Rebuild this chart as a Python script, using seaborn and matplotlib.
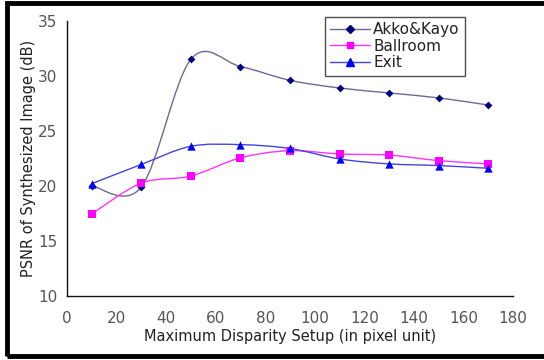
import numpy as np
import matplotlib
matplotlib.use("Agg")
import matplotlib.pyplot as plt
import seaborn as sns
from matplotlib.path import Path
from matplotlib.patches import PathPatch, Rectangle
from matplotlib.lines import Line2D

# data
disparity = [10, 30, 50, 70, 90, 110, 130, 150, 170]
akko_kayo = [20.0, 19.9, 31.5, 30.85, 29.6, 28.9, 28.45, 28.0, 27.35]
ballroom = [17.45, 20.25, 20.9, 22.55, 23.2, 22.9, 22.8, 22.3, 22.0]
exit_seq = [20.2, 21.95, 23.6, 23.75, 23.4, 22.45, 22.0, 21.85, 21.6]

series = [
    ("Akko&Kayo", akko_kayo, "#000080", "#6a6a9a", "D", 4),
    ("Ballroom", ballroom, "#ff00ff", "#ff33ff", "s", 5.5),
    ("Exit", exit_seq, "#0000ff", "#4444dd", "^", 6),
]

sns.set_style("white")
plt.rcParams["font.family"] = ["DejaVu Sans"]


def smooth_path(xs, ys):
    # excel-like smoothed line: catmull-rom segments as cubic beziers
    pts = np.column_stack([xs, ys]).astype(float)
    verts = [pts[0]]
    codes = [Path.MOVETO]
    n = len(pts)
    for i in range(n - 1):
        p0 = pts[i - 1] if i > 0 else pts[i]
        p1, p2 = pts[i], pts[i + 1]
        p3 = pts[i + 2] if i + 2 < n else pts[i + 1]
        c1 = p1 + (p2 - p0) / 6.0
        c2 = p2 - (p3 - p1) / 6.0
        verts += [c1, c2, p2]
        codes += [Path.CURVE4] * 3
    return Path(verts, codes)


fig = plt.figure(figsize=(5.44, 3.60), dpi=100)
ax = fig.add_axes([0.123, 0.178, 0.820, 0.764])

handles = []
for name, vals, mcol, lcol, mk, ms in series:
    ax.add_patch(PathPatch(smooth_path(disparity, vals), facecolor="none",
                           edgecolor=lcol, lw=1.0, zorder=2))
    sns.scatterplot(x=disparity, y=vals, marker=mk, s=ms ** 2, color=mcol,
                    edgecolor=mcol, linewidth=0, ax=ax, zorder=3)
    handles.append(Line2D([0], [0], color=lcol, lw=1.0, marker=mk,
                          markersize=ms * 0.9, markerfacecolor=mcol,
                          markeredgecolor=mcol))

ax.set_xlim(0, 180)
ax.set_ylim(10, 35)
ax.set_xticks(range(0, 181, 20))
ax.set_yticks(range(10, 36, 5))
ax.set_xlabel("Maximum Disparity Setup (in pixel unit)", fontsize=10.5,
              color="#222222", labelpad=2)
ax.set_ylabel("PSNR of Synthesized Image (dB)", fontsize=10.5,
              color="#222222", labelpad=1)
ax.tick_params(axis="both", direction="out", length=4, width=1,
               colors="#222222", labelcolor="#555555", labelsize=11)
ax.tick_params(axis="x", pad=7)
ax.tick_params(axis="y", pad=3)
for side in ["top", "right"]:
    ax.spines[side].set_visible(False)
for side in ["left", "bottom"]:
    ax.spines[side].set_color("#111111")
    ax.spines[side].set_linewidth(1.0)

leg = fig.legend(handles, [s[0] for s in series], loc="upper right",
                 bbox_to_anchor=(0.855, 0.953), fontsize=11, frameon=True,
                 fancybox=False, edgecolor="#222222", handlelength=2.6,
                 handletextpad=0.2, labelspacing=0.1, borderpad=0.35,
                 borderaxespad=0)
leg.get_frame().set_linewidth(1.0)
for t in leg.get_texts():
    t.set_color("#222222")

# black frame around the picture (left, top, bottom edges)
fig.add_artist(Rectangle((7 / 544, 4 / 360), 1.2, 353 / 360,
                         transform=fig.transFigure, fill=False,
                         edgecolor="black", lw=3.5, clip_on=False))

fig.savefig("out.png", dpi=100, facecolor="white")
